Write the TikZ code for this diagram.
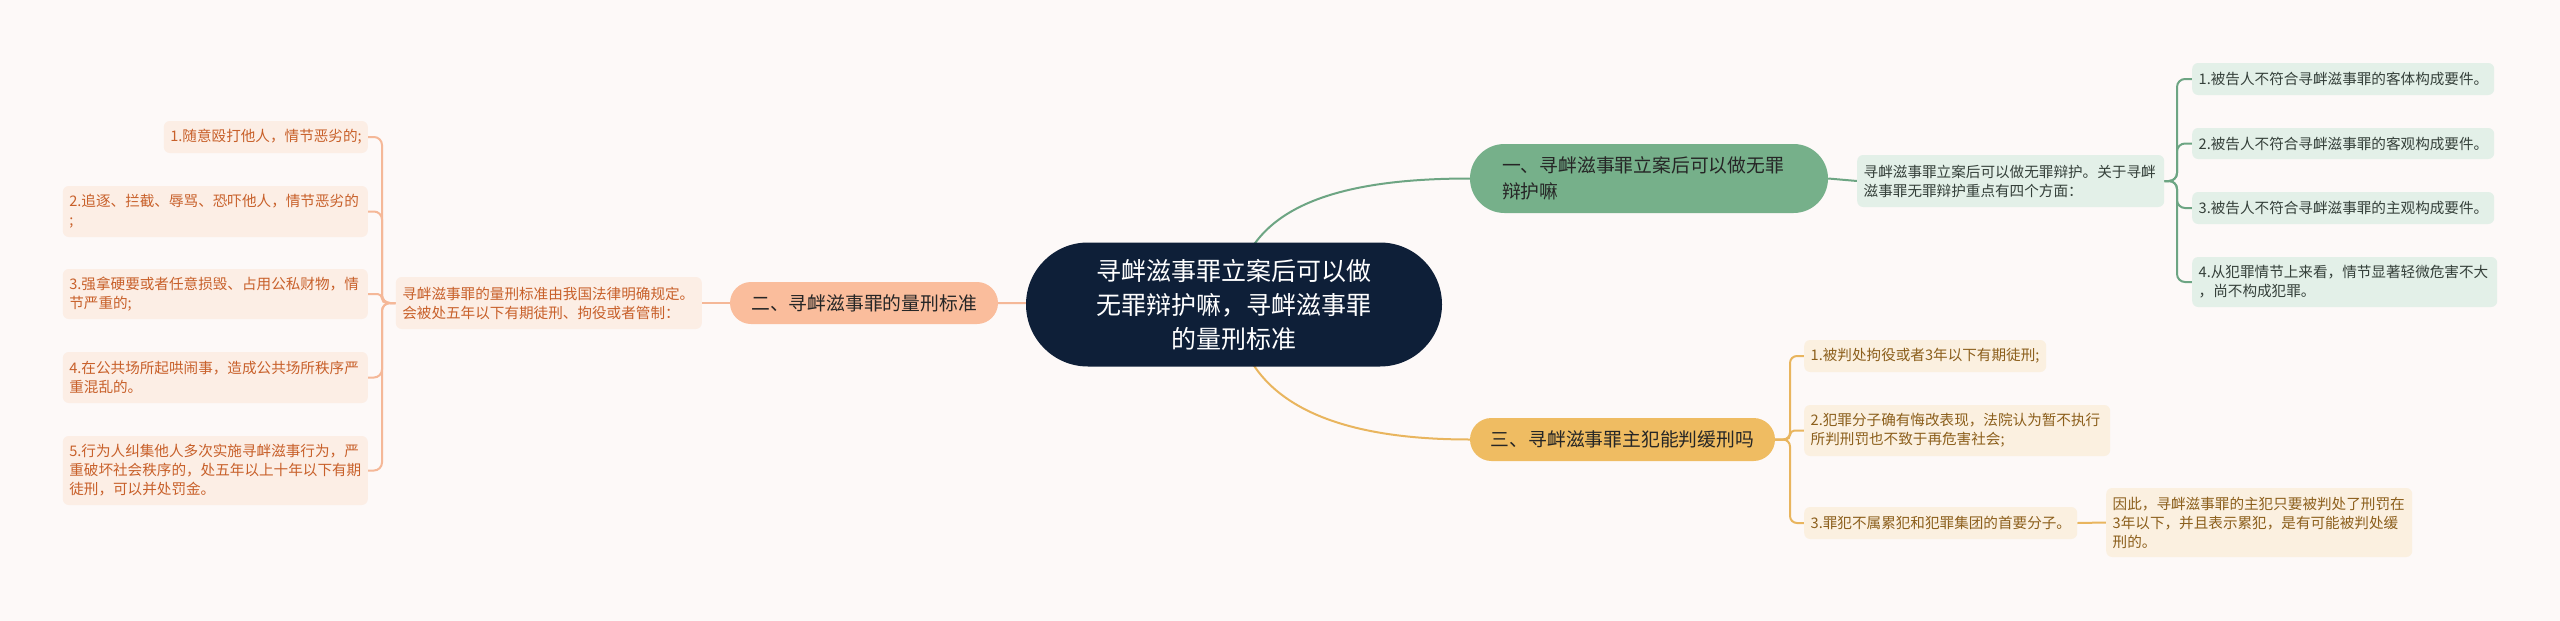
\documentclass[tikz,border=0pt]{standalone}
\usepackage{fontspec}
\setmainfont{Noto Sans CJK SC}
\usepackage{xcolor}
\usepackage{tikz}
\usetikzlibrary{backgrounds}
\definecolor{paper}{HTML}{FDF9F8}
\definecolor{hubfill}{HTML}{0E1F38}
\definecolor{gfill}{HTML}{76B08A}
\definecolor{gleafbg}{HTML}{E3F0E8}
\definecolor{gwire}{HTML}{6DA583}
\definecolor{gink}{HTML}{35403A}
\definecolor{ofill}{HTML}{FABD9C}
\definecolor{oleafbg}{HTML}{FCEEE5}
\definecolor{owire}{HTML}{F5B898}
\definecolor{oink}{HTML}{C8602A}
\definecolor{yfill}{HTML}{EFBC62}
\definecolor{yleafbg}{HTML}{FBF0E0}
\definecolor{ywire}{HTML}{E9B55E}
\definecolor{yink}{HTML}{8C5F1C}

\begin{document}
\begin{tikzpicture}[x=1pt, y=-1pt,
  hub/.style={fill=hubfill, text=white, rounded corners=62pt, minimum width=416pt, minimum height=124pt, align=center, inner sep=0pt, font=\fontsize{25}{34}\selectfont},
  topic/.style={inner ysep=0pt, align=left, font=\fontsize{18.8}{26}\selectfont},
  leaf/.style={rounded corners=6pt, inner xsep=6.5pt, inner ysep=0pt, align=left, font=\fontsize{14.6}{19}\selectfont},
  gleaf/.style={leaf, fill=gleafbg, text=gink},
  oleaf/.style={leaf, fill=oleafbg, text=oink},
  yleaf/.style={leaf, fill=yleafbg, text=yink},
  wire/.style={line width=2pt}]
\useasboundingbox (0,0) rectangle (2560,621);
% root
\node[hub] (hub) at (1234,304.5) {寻衅滋事罪立案后可以做\\无罪辩护嘛，寻衅滋事罪\\的量刑标准};
% topics
\node[topic, fill=gfill, text=black!85, rounded corners=34.5pt, text width=294pt, inner xsep=32pt, minimum height=69pt] (one) at (1649,178.5) {一、寻衅滋事罪立案后可以做无罪\\辩护嘛};
\node[topic, fill=ofill, text=black!85, rounded corners=21pt, minimum width=268pt, minimum height=42pt] (two) at (864,303) {二、寻衅滋事罪的量刑标准};
\node[topic, fill=yfill, text=black!85, rounded corners=21.5pt, minimum width=305pt, minimum height=43pt] (three) at (1622.5,439.5) {三、寻衅滋事罪主犯能判缓刑吗};
% branch one (right, green)
\node[gleaf, anchor=west, text width=294pt, minimum height=52pt] (onetxt) at (1857,181) {寻衅滋事罪立案后可以做无罪辩护。关于寻衅\\滋事罪无罪辩护重点有四个方面：};
\node[gleaf, anchor=west, text width=289pt, minimum height=32pt] (g1) at (2192,79) {1.被告人不符合寻衅滋事罪的客体构成要件。};
\node[gleaf, anchor=west, text width=289pt, minimum height=31pt] (g2) at (2192,143.5) {2.被告人不符合寻衅滋事罪的客观构成要件。};
\node[gleaf, anchor=west, text width=289pt, minimum height=32pt] (g3) at (2192,208) {3.被告人不符合寻衅滋事罪的主观构成要件。};
\node[gleaf, anchor=west, text width=292pt, minimum height=50pt] (g4) at (2192,282) {4.从犯罪情节上来看，情节显著轻微危害不大\\，尚不构成犯罪。};
% branch two (left, orange)
\node[oleaf, anchor=east, text width=293pt, minimum height=52pt] (twotxt) at (702,303) {寻衅滋事罪的量刑标准由我国法律明确规定。\\会被处五年以下有期徒刑、拘役或者管制：};
\node[oleaf, anchor=east, text width=191pt, minimum height=32pt] (o1) at (368,137) {1.随意殴打他人，情节恶劣的;};
\node[oleaf, anchor=east, text width=292pt, minimum height=51pt] (o2) at (368,211.5) {2.追逐、拦截、辱骂、恐吓他人，情节恶劣的\\;};
\node[oleaf, anchor=east, text width=292pt, minimum height=50pt] (o3) at (368,294) {3.强拿硬要或者任意损毁、占用公私财物，情\\节严重的;};
\node[oleaf, anchor=east, text width=292pt, minimum height=51pt] (o4) at (368,377.5) {4.在公共场所起哄闹事，造成公共场所秩序严\\重混乱的。};
\node[oleaf, anchor=east, text width=292pt, minimum height=69pt] (o5) at (368,470.5) {5.行为人纠集他人多次实施寻衅滋事行为，严\\重破坏社会秩序的，处五年以上十年以下有期\\徒刑，可以并处罚金。};
% branch three (right, yellow)
\node[yleaf, anchor=west, text width=229pt, minimum height=32pt] (y1) at (1804,356) {1.被判处拘役或者3年以下有期徒刑;};
\node[yleaf, anchor=west, text width=293pt, minimum height=51pt] (y2) at (1804,430.5) {2.犯罪分子确有悔改表现，法院认为暂不执行\\所判刑罚也不致于再危害社会;};
\node[yleaf, anchor=west, text width=260pt, minimum height=32pt] (y3) at (1804,523) {3.罪犯不属累犯和犯罪集团的首要分子。};
\node[yleaf, anchor=west, text width=293pt, minimum height=69pt] (ysub) at (2106,522.5) {因此，寻衅滋事罪的主犯只要被判处了刑罚在\\3年以下，并且表示累犯，是有可能被判处缓\\刑的。};
% junctions
\coordinate (gj) at (2177,181);
\coordinate (oj) at (382,303);
\coordinate (yj) at (1790,439.5);
% connectors
\begin{scope}[on background layer]
\fill[paper] (0,0) rectangle (2560,621);
\draw[wire, gwire] (hub.center) .. controls (1240,220) and (1310,178.5) .. (one.west);
\draw[wire, ywire] (hub.center) .. controls (1240,388) and (1310,439.5) .. (three.west);
\draw[wire, owire] (hub.center) -- (two.east);
\draw[wire, gwire] (one.east) -- (onetxt.west);
\draw[wire, owire] (two.west) -- (twotxt.east);
\draw[wire, ywire] (y3.east) -- (ysub.west);
\foreach \l/\r in {g1/8,g2/8,g3/8,g4/8}
  \draw[wire, gwire, rounded corners=\r pt] (onetxt.east) -- (gj) |- (\l.west);
\foreach \l/\r in {o1/8,o2/8,o3/4.5,o4/8,o5/8}
  \draw[wire, owire, rounded corners=\r pt] (twotxt.west) -- (oj) |- (\l.east);
\foreach \l/\r in {y1/7,y2/4.5,y3/7}
  \draw[wire, ywire, rounded corners=\r pt] (three.east) -- (yj) |- (\l.west);
\end{scope}
\end{tikzpicture}
\end{document}
